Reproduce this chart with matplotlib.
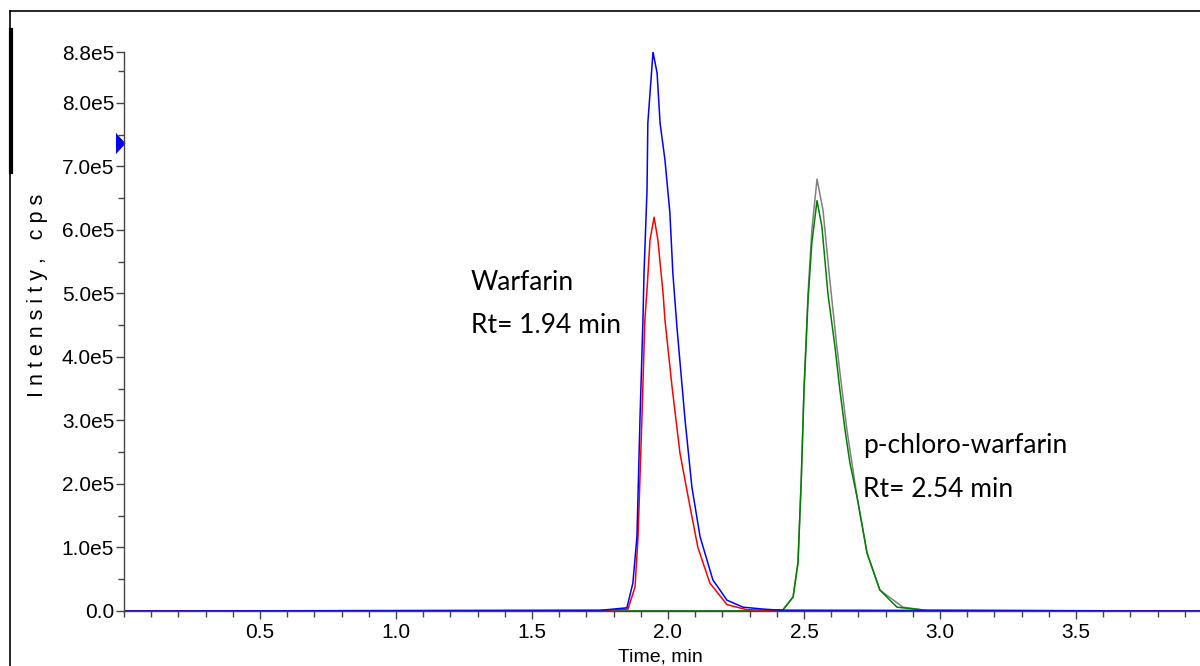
import matplotlib.pyplot as plt
from matplotlib.lines import Line2D
from matplotlib.ticker import MultipleLocator

# time (min) / intensity (cps)
blue_t = [0.0, 1.75, 1.849, 1.871, 1.886, 1.897, 1.908, 1.912, 1.923, 1.926, 1.945,
          1.96, 1.971, 1.989, 2.007, 2.018, 2.033, 2.063, 2.088, 2.118, 2.165, 2.217,
          2.276, 2.35, 2.42, 3.96]
blue_i = [0.0, 0.01e5, 0.05e5, 0.44e5, 1.17e5, 3.0e5, 4.58e5, 5.32e5, 6.63e5, 7.68e5, 8.8e5,
          8.47e5, 7.68e5, 7.1e5, 6.27e5, 5.32e5, 4.47e5, 3.0e5, 1.95e5, 1.17e5, 0.49e5, 0.17e5,
          0.06e5, 0.03e5, 0.01e5, 0.0]

red_t = [0.0, 1.75, 1.853, 1.879, 1.89, 1.904, 1.915, 1.923, 1.934, 1.949, 1.963, 1.982,
         1.989, 2.015, 2.044, 2.074, 2.11, 2.154, 2.217, 2.29, 2.4, 3.96]
red_i = [0.0, 0.01e5, 0.03e5, 0.38e5, 1.17e5, 3.0e5, 4.58e5, 5.06e5, 5.84e5, 6.2e5, 5.84e5, 5.0e5,
         4.58e5, 3.53e5, 2.49e5, 1.8e5, 1.0e5, 0.44e5, 0.1e5, 0.02e5, 0.01e5, 0.0]

grey_t = [0.0, 2.35, 2.423, 2.46, 2.478, 2.49, 2.5, 2.508, 2.515, 2.529, 2.548, 2.57,
          2.596, 2.621, 2.64, 2.658, 2.695, 2.732, 2.779, 2.864, 2.95, 3.96]
grey_i = [0.0, 0.0, 0.02e5, 0.22e5, 0.76e5, 2.06e5, 3.5e5, 4.3e5, 5.0e5, 6.0e5, 6.8e5, 6.31e5,
          5.17e5, 4.16e5, 3.48e5, 2.85e5, 1.8e5, 0.91e5, 0.33e5, 0.06e5, 0.01e5, 0.0]

green_t = [0.0, 2.35, 2.423, 2.46, 2.478, 2.49, 2.5, 2.508, 2.515, 2.529, 2.548, 2.566,
           2.588, 2.614, 2.632, 2.651, 2.669, 2.695, 2.732, 2.779, 2.842, 2.95, 3.96]
green_i = [0.0, 0.0, 0.02e5, 0.22e5, 0.76e5, 2.06e5, 3.45e5, 4.2e5, 4.9e5, 5.8e5, 6.46e5, 6.05e5,
           5.0e5, 4.16e5, 3.48e5, 2.85e5, 2.33e5, 1.8e5, 0.91e5, 0.33e5, 0.06e5, 0.01e5, 0.0]

y_ticks = [0.0, 1e5, 2e5, 3e5, 4e5, 5e5, 6e5, 7e5, 8e5, 8.8e5]
y_labels = ["0.0", "1.0e5", "2.0e5", "3.0e5", "4.0e5", "5.0e5", "6.0e5", "7.0e5", "8.0e5", "8.8e5"]
x_ticks = [0.5, 1.0, 1.5, 2.0, 2.5, 3.0, 3.5]
x_labels = ["0.5", "1.0", "1.5", "2.0", "2.5", "3.0", "3.5"]
marker_level = 7.37e5

tick_font = "Liberation Sans"
note_font = "Lato"

fig = plt.figure(figsize=(12, 6.66), dpi=100)
ax = fig.add_axes([0.1033, 0.0826, 0.8967, 0.8393])

ax.plot(grey_t, grey_i, color="#808080", lw=1.1)
ax.plot(green_t, green_i, color="#008000", lw=1.1)
ax.plot(red_t, red_i, color="#ff0000", lw=1.1)
ax.plot(blue_t, blue_i, color="#0000ff", lw=1.1)

ax.set_xlim(0, 3.956)
ax.set_ylim(0, 8.8e5)
for s in ["top", "right"]:
    ax.spines[s].set_visible(False)
for s in ["left", "bottom"]:
    ax.spines[s].set_color("#444444")
    ax.spines[s].set_linewidth(1.0)

ax.set_xticks(x_ticks, x_labels, fontsize=15, family=tick_font)
ax.set_yticks(y_ticks, y_labels, fontsize=15, family=tick_font)
ax.xaxis.set_minor_locator(MultipleLocator(0.1))
ax.yaxis.set_minor_locator(MultipleLocator(0.5e5))
ax.tick_params(which="major", length=6, width=1, color="#444444", pad=3)
ax.tick_params(which="minor", length=4, width=1, color="#444444")
ax.tick_params(axis="y", pad=1)

# blue pointer on the y axis
tri = [(-0.45, -1), (0.45, 0), (-0.45, 1)]
ax.plot([-0.0035], [marker_level], marker=tri, markersize=14.5, color="#0000ff",
        markeredgecolor="#000080", markeredgewidth=0.5,
        transform=ax.get_yaxis_transform(), clip_on=False)

ax.text(1.276, 5.17e5, "Warfarin", fontsize=19, family=note_font, va="center")
ax.text(1.276, 4.49e5, "Rt= 1.94 min", fontsize=19, family=note_font, va="center")
ax.text(2.717, 2.6e5, "p-chloro-warfarin", fontsize=19, family=note_font, va="center")
ax.text(2.717, 1.92e5, "Rt= 2.54 min", fontsize=19, family=note_font, va="center")

fig.text(0.031, 0.557, "I n t e n s i t y ,   c p s", rotation=90, fontsize=15.5,
         family=tick_font, ha="center", va="center")
fig.text(0.55, 0.0, "Time, min", fontsize=14, family=tick_font, ha="center", va="bottom")

# screenshot frame
fig.add_artist(Line2D([10 / 1200, 1.0], [1 - 11 / 666, 1 - 11 / 666], color="black", lw=1.2))
fig.add_artist(Line2D([10 / 1200, 10 / 1200], [0, 1 - 11 / 666], color="black", lw=1.2))
fig.add_artist(Line2D([11 / 1200, 11 / 1200], [1 - 30 / 666, 1 - 172 / 666], color="black", lw=3))

fig.savefig("out.png", dpi=100)
